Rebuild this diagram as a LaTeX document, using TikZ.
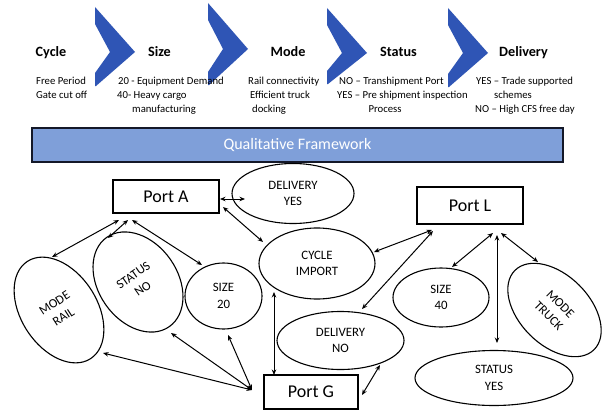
\documentclass[tikz,border=0pt]{standalone}
\usepackage{fontspec}
\setmainfont{Carlito}
\usetikzlibrary{shapes.geometric,arrows.meta,calc}
\definecolor{chev}{RGB}{47,85,181}
\definecolor{banfill}{RGB}{127,159,217}
\definecolor{banline}{RGB}{20,24,40}
\begin{document}
\begin{tikzpicture}[x=1pt,y=-1pt,
  head/.style={font=\fontsize{14.2}{17}\selectfont\bfseries, inner sep=0, anchor=base},
  txt/.style={font=\fontsize{10.7}{13}\selectfont, inner sep=0, anchor=base west},
  txtc/.style={font=\fontsize{10.7}{13}\selectfont, inner sep=0, anchor=base},
  port/.style={draw, line width=1.1pt, font=\fontsize{18}{20}\selectfont, inner sep=0},
  oval/.style={draw, ellipse, line width=1.1pt, inner sep=0, align=center, font=\fontsize{12.8}{16.5}\selectfont},
  link/.style={{Stealth[length=5.5pt,width=4.5pt]}-{Stealth[length=5.5pt,width=4.5pt]}, line width=1pt}
]
\useasboundingbox (0,0) rectangle (604,412);
\fill[white] (0,0) rectangle (604,412);

% chevrons
\foreach \x/\t/\m/\b in {95/7/52/86, 208/3/49/85, 327/8/53/84, 448/8/53/87}{
  \fill[chev] (\x,\t) -- (\x+40,\m) -- (\x+1,\b) -- (\x,\b) -- (\x,\b-13) -- (\x+15,\m) -- (\x,\t+17) -- cycle;
}

% headings
\node[head] (hcycle) at (51,56.5) {Cycle};
\node[head] (hsize) at (159.5,56.5) {Size};
\node[head] (hmode) at (288,56.5) {Mode};
\node[head] (hstatus) at (398.5,56.5) {Status};
\node[head] (hdelivery) at (523.5,56.5) {Delivery};

% descriptions
\node[txt] (c1) at (36,84.5) {Free Period};
\node[txt] (c2) at (36,98.5) {Gate cut off};
\node[txt] (z1) at (118,84.5) {20 - Equipment Demand};
\node[txt] (z2) at (117,98.5) {40- Heavy cargo};
\node[txt] (z3) at (132,112) {manufacturing};
\node[txt] (m1) at (248,84.5) {Rail connectivity};
\node[txt] (m2) at (250,98.5) {Efficient truck};
\node[txt] (m3) at (252,112) {docking};
\node[txt] (s1) at (339,84.5) {NO – Transhipment Port};
\node[txt] (s2) at (337,98.5) {YES – Pre shipment inspection};
\node[txtc] (s3) at (385,112) {Process};
\node[txt] (d1) at (476,84.5) {YES – Trade supported};
\node[txtc] (d2) at (513,98.5) {schemes};
\node[txt] (d3) at (475,112) {NO – High CFS free day};

% banner
\node[draw=banline, fill=banfill, line width=1.3pt, minimum width=531pt, minimum height=34pt,
      inner sep=0, text=white, font=\fontsize{16}{18}\selectfont] (banner) at (297.5,145) {Qualitative Framework};

% ports
\node[port, minimum width=106pt, minimum height=33pt] (pa) at (166,196.5) {Port A};
\node[port, minimum width=106pt, minimum height=37pt] (pl) at (470,205.5) {Port L};
\node[port, minimum width=94pt, minimum height=34pt] (pg) at (311,392) {Port G};

% ellipses
\node[oval, minimum width=122pt, minimum height=60pt] (dyes) at (293,193.5) {DELIVERY\\YES};
\node[oval, minimum width=116pt, minimum height=71pt] (cimp) at (317,263.5) {CYCLE\\IMPORT};
\node[oval, minimum width=96pt, minimum height=59pt] (s40) at (441,297.5) {SIZE\\40};
\node[oval, minimum width=158pt, minimum height=55pt] (styes) at (494,378) {STATUS\\YES};
\node[oval, minimum width=127pt, minimum height=58pt] (dno) at (340.5,340.5) {DELIVERY\\NO};
\node[oval, minimum width=77pt, minimum height=66pt] (s20) at (223.5,296) {SIZE\\20};
\node[oval, rotate=33, minimum width=76pt, minimum height=116pt] (mrail) at (59,310) {MODE\\RAIL};
\node[oval, rotate=35, minimum width=79pt, minimum height=109pt] (stno) at (138,282) {STATUS\\NO};
\node[oval, rotate=-45, minimum width=112pt, minimum height=70pt] (mtruck) at (554.5,310) {MODE\\TRUCK};

% connector end points
\coordinate (pa-dy) at (220,199);   \coordinate (dy-pa) at (245,199);
\coordinate (pa-ci) at (223,207);   \coordinate (ci-pa) at (263,242);
\coordinate (pa-mr) at (119,220);   \coordinate (mr-pa) at (52,257);
\coordinate (pa-sn) at (128,220);   \coordinate (sn-pa) at (108,238);
\coordinate (pa-sz) at (132,220);   \coordinate (sz-pa) at (202,265);
\coordinate (pg-w)  at (252,390);
\coordinate (mr-pg) at (103,353);   \coordinate (sn-pg) at (171,333);
\coordinate (sz-pg) at (228,335);
\coordinate (ci-pg) at (274,292);   \coordinate (pg-ci) at (274,375);
\coordinate (pg-dn) at (362,395);   \coordinate (dn-pg) at (380,365);
\coordinate (pl-ci) at (432,230);   \coordinate (ci-pl) at (374,252);
\coordinate (pl-dn) at (433,231);   \coordinate (dn-pl) at (362,309);
\coordinate (pl-s4) at (493,233);   \coordinate (s4-pl) at (452,267);
\coordinate (pl-sy) at (497,235);   \coordinate (sy-pl) at (497,343);
\coordinate (pl-mt) at (501,233);   \coordinate (mt-pl) at (538,262);

% connectors
\draw[link] (pa-dy) -- (dy-pa);
\draw[link] (pa-ci) -- (ci-pa);
\draw[link] (pa-mr) -- (mr-pa);
\draw[link] (pa-sn) -- (sn-pa);
\draw[link] (pa-sz) -- (sz-pa);
\draw[link] (pg-w) -- (mr-pg);
\draw[link] (pg-w) -- (sn-pg);
\draw[link] (pg-w) -- (sz-pg);
\draw[link] (ci-pg) -- (pg-ci);
\draw[link] (pg-dn) -- (dn-pg);
\draw[link] (pl-ci) -- (ci-pl);
\draw[link] (pl-dn) -- (dn-pl);
\draw[link] (pl-s4) -- (s4-pl);
\draw[link] (pl-sy) -- (sy-pl);
\draw[link] (pl-mt) -- (mt-pl);
\end{tikzpicture}
\end{document}
